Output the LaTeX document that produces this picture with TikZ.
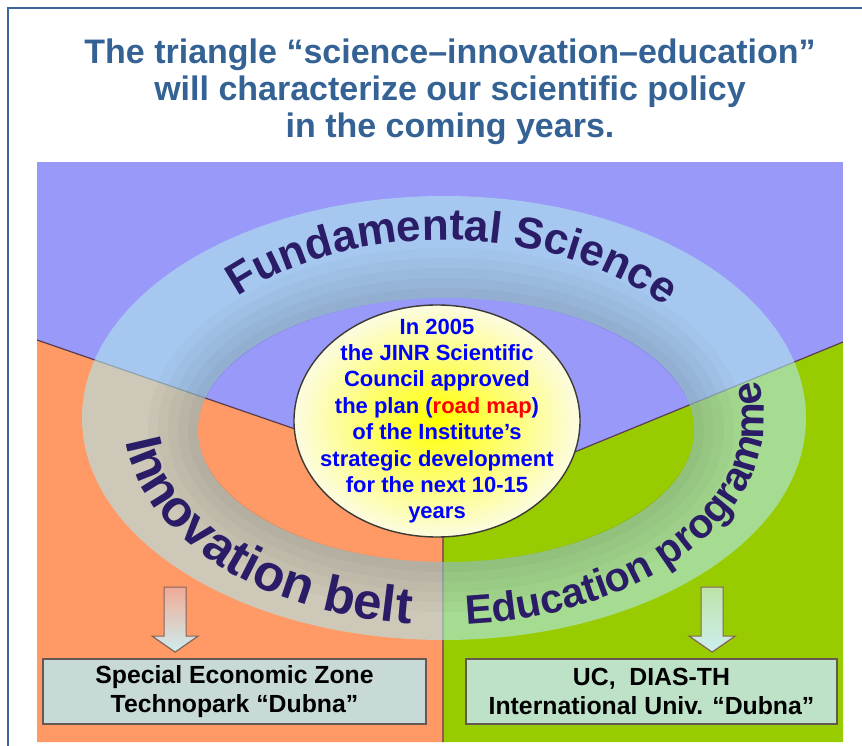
\documentclass[tikz,border=0pt]{standalone}
\usepackage{fontspec}
\setmainfont{Liberation Sans}
\usetikzlibrary{calc,decorations.text,shapes.geometric}

\definecolor{framec}{RGB}{58,102,155}
\definecolor{titlec}{RGB}{52,98,148}
\definecolor{lilac}{RGB}{153,153,250}
\definecolor{peach}{RGB}{255,153,102}
\definecolor{lime}{RGB}{153,204,0}
\definecolor{ringc}{RGB}{175,230,235}
\definecolor{inkc}{RGB}{42,28,102}
\definecolor{seam}{RGB}{90,60,80}
\definecolor{boxl}{RGB}{200,218,216}
\definecolor{boxr}{RGB}{190,226,200}
\definecolor{boxline}{RGB}{100,88,80}
\definecolor{arrowline}{RGB}{130,100,90}
\definecolor{arrowtop}{RGB}{240,170,150}
\definecolor{arrowbot}{RGB}{205,238,240}

\tikzset{
  heading/.style={text=titlec,align=center,inner sep=0pt,
    font=\fontsize{34}{37}\selectfont\bfseries},
  core/.style={ellipse,minimum width=286pt,minimum height=232pt,inner sep=0pt,
    draw={rgb,255:red,60;green,58;blue,50},line width=1.4pt,
    inner color=yellow,outer color={rgb,255:red,252;green,252;blue,225}},
  plantext/.style={text={rgb,255:red,0;green,0;blue,255},align=center,inner sep=0pt,
    font=\fontsize{22}{26.4}\selectfont\bfseries},
  zone/.style={draw=boxline,line width=1.8pt,minimum height=65pt,inner sep=0pt,
    align=center,font=\fontsize{24.8}{29}\selectfont\bfseries},
  shadowband/.style={black,opacity=0.022},
}

\begin{document}
\begin{tikzpicture}[x=1pt,y=-1pt]
  \useasboundingbox (0,0) rectangle (862,746);
  % three fields
  \fill[lilac] (37,162) rectangle (843,742);
  \fill[peach] (37,340) -- (443,480) -- (443,742) -- (37,742) -- cycle;
  \fill[lime] (443,506) -- (843,342) -- (843,742) -- (443,742) -- cycle;
  \draw[seam,line width=1.2pt] (37,340) -- (443,480) (843,342) -- (443,506) -- (443,742);
  % ring
  \fill[ringc,fill opacity=0.62,even odd rule]
    (444,418) ellipse[x radius=362pt,y radius=222pt]
    (446,430) ellipse[x radius=248pt,y radius=132pt];
  \foreach \w in {50,40,30,20,10}
    \draw[shadowband,line width=\w pt] (446,430) ellipse[x radius={248+\w/2},y radius={132+\w/2}];
  \path[decorate,decoration={text along path,text align=center,text color=inkc,
      text={|\fontsize{44}{44}\selectfont\bfseries|Fundamental Science}}]
    plot[domain=160:15,samples=120] ({444+290*cos(\x)},{430-190*sin(\x)});
  \path[decorate,decoration={text along path,text align=left,text color=inkc,
      text={|\fontsize{51}{51}\selectfont\bfseries|Innovation belt}}]
    plot[domain=186:300,samples=120] ({444+320*cos(\x)},{420-205*sin(\x)});
  \path[decorate,decoration={text along path,text align=left,text color=inkc,
      text={|\fontsize{41}{41}\selectfont\bfseries|Education programme}}]
    plot[domain=274:400,samples=120] ({444+320*cos(\x)},{420-205*sin(\x)});
  % centre
  \node[core] (core) at (437,421) {};
  \node[plantext] (plan) at (core.center) {In 2005\\the JINR Scientific\\Council approved\\
    the plan (\textcolor{red}{road map})\\of the Institute’s\\strategic development\\
    for the next 10-15\\years};
  % outputs
  \node[zone,fill=boxl,minimum width=383pt] (sez) at (234.5,691.5)
    {Special Economic Zone\\Technopark “Dubna”};
  \node[zone,fill=boxr,minimum width=371pt] (univ) at (651.5,691.5)
    {UC,\ \ DIAS-TH\\International Univ. “Dubna”};
  \coordinate (ltip) at ($(sez.north west)+(133,-6)$);
  \coordinate (rtip) at ($(univ.north west)+(247,-6)$);
  \shade[top color=arrowtop,bottom color=arrowbot,draw=arrowline,line width=1.2pt]
    (ltip) -- ++(-23,-16) -- ++(12,0) -- ++(0,-49) -- ++(22,0) -- ++(0,49) -- ++(12,0) -- cycle;
  \shade[top color=arrowbot!70!lime,bottom color=arrowbot,draw=arrowline,line width=1.2pt]
    (rtip) -- ++(-23,-16) -- ++(12,0) -- ++(0,-49) -- ++(22,0) -- ++(0,49) -- ++(12,0) -- cycle;
  % heading
  \node[heading,anchor=north] (ttl) at (450,38.2)
    {The triangle “science–innovation–education”\\will characterize our scientific policy\\in the coming years.};
  \draw[framec,line width=2pt] (7,8) -- (862,8);
  \draw[framec,line width=2pt] (8,7) -- (8,746);
\end{tikzpicture}
\end{document}
